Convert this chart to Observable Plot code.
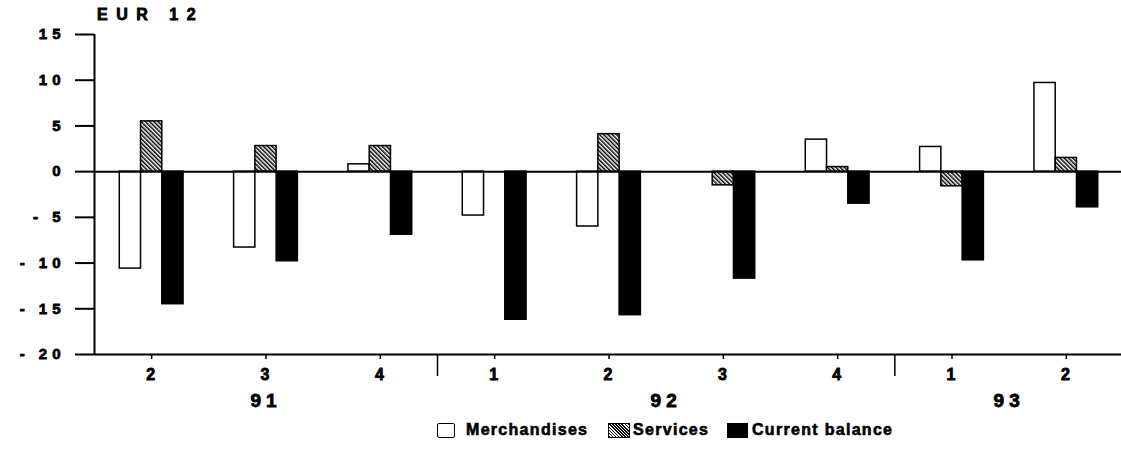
<!DOCTYPE html>
<html><head><meta charset="utf-8">
<script src="https://cdn.jsdelivr.net/npm/d3@7"></script>
<script src="https://cdn.jsdelivr.net/npm/@observablehq/plot@0.6"></script>
<style>
body{margin:0;background:#fff;font-family:"Liberation Sans","DejaVu Sans",sans-serif;font-weight:bold;color:#000}
#wrap{position:relative;width:1121px;height:452px;overflow:hidden;background:#fff}
#title{position:absolute;left:97px;top:7px;font-size:16px;line-height:1;letter-spacing:8.5px;white-space:nowrap;-webkit-text-stroke:0.8px #000}
#chart{position:absolute;left:0;top:24px}
#chart svg text{stroke:#000;stroke-width:0.8px;font-weight:bold}
.sw{position:absolute;top:423px;height:15px;box-sizing:border-box;border:1.5px solid #000}
.lt{position:absolute;top:422px;font-size:16px;line-height:1;white-space:nowrap;letter-spacing:1.3px;-webkit-text-stroke:0.6px #000}
</style></head><body>
<div id="wrap">
  <div id="title">EUR 12</div>
  <div id="chart"></div>
  <div id="legend"></div>
</div>
<script>
// ---- data ----
const quarters = ["2","3","4","1","2","3","4","1","2"];
const years = ["91","91","91","92","92","92","92","93","93"];
const merchandises = [-10.6, -8.3, 0.8, -4.8, -6.0, 0, 3.5, 2.7, 9.7];
const services = [5.5, 2.8, 2.8, 0, 4.1, -1.5, 0.5, -1.6, 1.5];
const currentBalance = [-14.5, -9.8, -6.9, -16.2, -15.7, -11.7, -3.5, -9.7, -3.9];
const seriesNames = ["Merchandises", "Services", "Current balance"];
const yTicks = [-20, -15, -10, -5, 0, 5, 10, 15];

// ---- derived table ----
const seriesValues = [merchandises, services, currentBalance];
const barW = 0.186;
const rows = [];
quarters.forEach((q, i) => {
  seriesNames.forEach((s, k) => {
    rows.push({i, series: s, k, value: seriesValues[k][i]});
  });
});
const idx = quarters.map((_, i) => i);
const uniqYears = [...new Set(years)];
const yearMids = uniqYears.map(y => d3.mean(idx.filter(i => years[i] === y)));
const yearBounds = idx.slice(1).filter(i => years[i] !== years[i - 1]).map(i => i - 0.5);

const fills = ["white", "url(#hatch)", "black"];

const svg = Plot.plot({
  width: 1121,
  height: 386,
  marginTop: 10,
  marginBottom: 56,
  marginLeft: 94,
  marginRight: 0,
  style: {fontFamily: "Liberation Sans, DejaVu Sans, sans-serif", fontWeight: "bold", color: "black", background: "white"},
  x: {domain: [-0.5, quarters.length - 0.5], range: [94, 1123]},
  y: {domain: [-20, 15]},
  color: {domain: seriesNames, range: fills},
  marks: [
    Plot.rect(rows, {
      x1: d => d.i + (d.k - 1) * barW - barW / 2,
      x2: d => d.i + (d.k - 1) * barW + barW / 2,
      y1: d => 0,
      y2: "value",
      fill: "series",
      stroke: "black",
      strokeWidth: 1.5
    }),
    Plot.ruleY([0], {stroke: "black", strokeWidth: 2}),
    Plot.ruleY([-20], {stroke: "black", strokeWidth: 2}),
    Plot.ruleX([-0.5], {stroke: "black", strokeWidth: 2}),
    Plot.axisY(yTicks, {tickSize: 19, tickPadding: 10, strokeWidth: 2, fontSize: 15, label: null,
      tickFormat: d => d < 0 ? "- " + (-d) : String(d)}),
    Plot.axisX(idx, {tickSize: 5, tickPadding: 9, strokeWidth: 1.5, fontSize: 16, label: null,
      tickFormat: i => quarters[i]}),
    Plot.axisX(yearBounds, {tickSize: 22, strokeWidth: 1.5, label: null, tickFormat: () => ""}),
    Plot.axisX(yearMids, {tickSize: 0, tickPadding: 39, fontSize: 19, label: null,
      tickFormat: m => uniqYears[yearMids.indexOf(m)]})
  ]
});

const defs = d3.select(svg).insert("defs", ":first-child");
const pat = defs.append("pattern").attr("id", "hatch").attr("patternUnits", "userSpaceOnUse")
  .attr("width", 3).attr("height", 3).attr("patternTransform", "rotate(-45)");
pat.append("rect").attr("width", 3).attr("height", 3).attr("fill", "white");
pat.append("rect").attr("width", 1.5).attr("height", 3).attr("fill", "black");

d3.select(svg).selectAll('g[aria-label="y-axis tick label"]').attr("letter-spacing", "5px");
const xls = d3.select(svg).selectAll('g[aria-label="x-axis tick label"]').nodes();
xls.forEach((g, j) => d3.select(g).attr("letter-spacing", j === xls.length - 1 ? "5px" : "2px"));
document.getElementById("chart").appendChild(svg);

// ---- legend ----
const legendLayout = [
  {sx: 437, sw: 18, tx: 466},
  {sx: 608, sw: 22, tx: 633},
  {sx: 727, sw: 21, tx: 752}
];
const legendFills = ["#fff", "repeating-linear-gradient(45deg, #000 0 1.1px, #fff 1.1px 2.2px)", "#000"];
const lg = document.getElementById("legend");
seriesNames.forEach((name, k) => {
  const L = legendLayout[k];
  const sw = document.createElement("div");
  sw.className = "sw";
  sw.style.left = L.sx + "px";
  sw.style.width = L.sw + "px";
  sw.style.background = legendFills[k];
  if (k === 0) sw.style.borderRadius = "2px";
  lg.appendChild(sw);
  const t = document.createElement("div");
  t.className = "lt";
  t.style.left = L.tx + "px";
  t.textContent = name;
  lg.appendChild(t);
});
</script>
</body></html>
